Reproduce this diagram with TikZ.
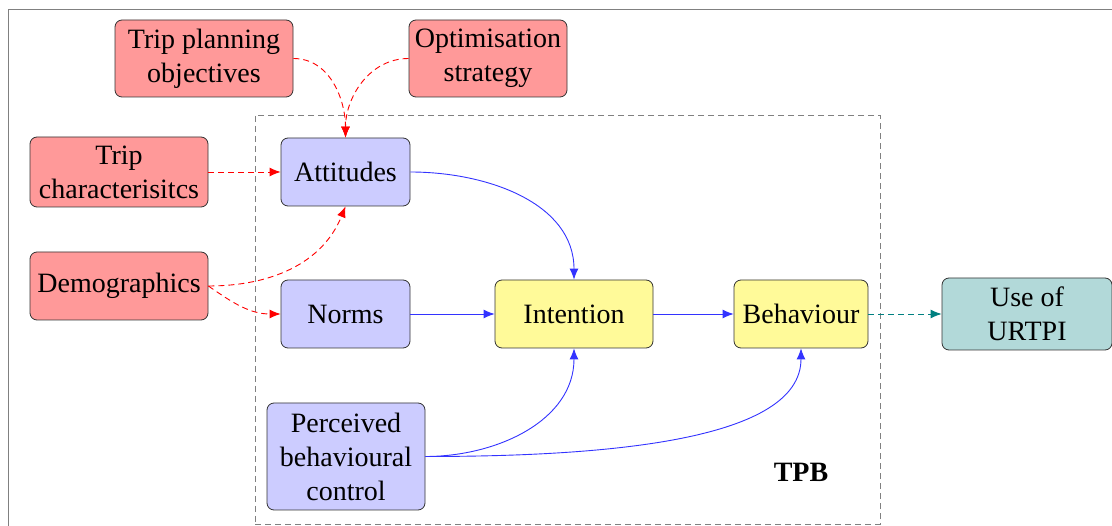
\documentclass[tikz,border=0pt]{standalone}
\usepackage{fontspec}
\setmainfont{Liberation Serif}
\usetikzlibrary{positioning}
\usetikzlibrary{arrows.meta}

\begin{document}
\begin{tikzpicture}[x=1pt,y=1pt,yscale=-1,xscale=1,
    box/.style={draw=black!80, line width=0.8pt, rounded corners=7pt, align=center, inner sep=2pt, minimum height=68pt, font=\fontsize{28}{34}\selectfont},
    extbox/.style={box, fill=red!40},
    tpbbox/.style={box, fill=blue!20},
    corebox/.style={box, fill=yellow!40},
    usebox/.style={box, fill=teal!30},
    redarrow/.style={red, line width=0.9pt, dash pattern=on 6pt off 4pt, -{Latex[length=11pt,width=9pt]}},
    bluearrow/.style={blue!80, line width=0.9pt, -{Latex[length=11pt,width=9pt]}},
    tealarrow/.style={teal, line width=0.9pt, dash pattern=on 6pt off 4pt, -{Latex[length=11pt,width=9pt]}}]
    \useasboundingbox (0,0) rectangle (1112,526);

%Frame
\draw [gray, line width=1pt] (8,526) -- (8,10) -- (1112,10);

%TPB dashed box
\node [draw=gray, line width=0.9pt, dash pattern=on 6pt off 4pt, minimum width=625pt, minimum height=409pt] (tpb) at (567.5,319.5) {};
\node [font=\fontsize{28}{34}\selectfont\bfseries] (tpblabel) at (801,472) {TPB};

% External factors
\node [extbox, minimum width=178pt, minimum height=77pt] (plan) at (204,58.5) {Trip planning\\objectives};
\node [extbox, minimum width=158pt, minimum height=77pt] (optim) at (488,58.5) {Optimisation\\strategy};
\node [extbox, minimum width=178pt, minimum height=70pt] (trip) at (119,172) {Trip\\characterisitcs};
\node [extbox, minimum width=178pt] (demo) at (119,286) {Demographics};

% TPB nodes
\node [tpbbox, minimum width=129pt] (att) at (345.5,172) {Attitudes};
\node [tpbbox, minimum width=129pt] (norm) at (345.5,314) {Norms};
\node [tpbbox, minimum width=158pt, minimum height=107pt] (pbc) at (346,456.5) {Perceived\\behavioural\\control};
\node [corebox, minimum width=158pt] (int) at (574,314) {Intention};
\node [corebox, minimum width=134pt] (beh) at (801,314) {Behaviour};
\node [usebox, minimum width=170pt, minimum height=72pt] (use) at (1027,314) {Use of\\URTPI};

% Red arrows (angles flipped by yscale=-1)
\draw [redarrow] (plan.east) to[out=0,in=-90] (att.north);
\draw [redarrow] (optim.west) to[out=180,in=-90] (att.north);
\draw [redarrow] (trip.east) -- (att.west);
\draw [redarrow] (demo.east) to[out=0,in=112] (att.south);
\draw [redarrow] (demo.east) to[out=35,in=180] (norm.west);

% Blue arrows
\draw [bluearrow] (att.east) to[out=0,in=-90] (int.north);
\draw [bluearrow] (norm.east) -- (int.west);
\draw [bluearrow] (int.east) -- (beh.west);
\draw [bluearrow] (pbc.east) to[out=0,in=90] (int.south);
\draw [bluearrow] (pbc.east) to[out=0,in=90,out looseness=1.2,in looseness=0.6] (beh.south);

% Teal arrow
\draw [tealarrow] (beh.east) -- (use.west);

\end{tikzpicture}
\end{document}
